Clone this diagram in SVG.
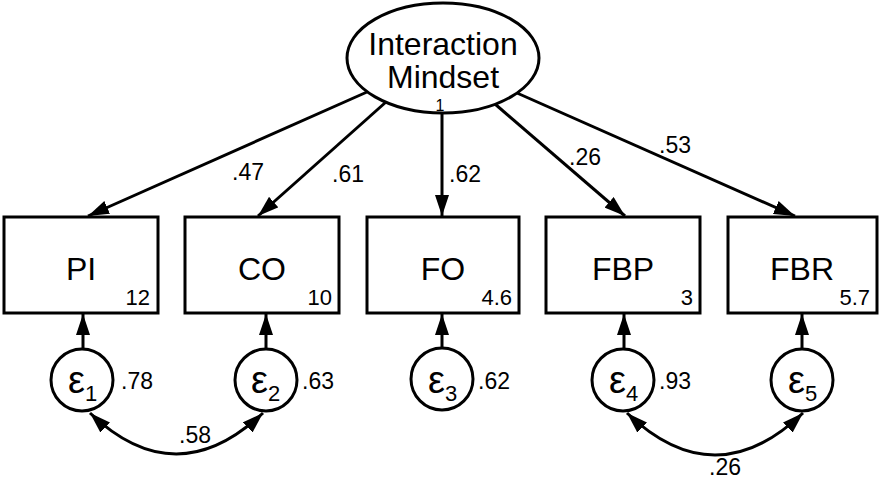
<svg xmlns="http://www.w3.org/2000/svg" width="882" height="479" viewBox="0 0 882 479">
<style>
text{font-family:"Liberation Sans",Arial,Helvetica,sans-serif;fill:#000}
.box{fill:#fff;stroke:#000;stroke-width:3}
.lat{fill:#fff;stroke:#000;stroke-width:3}
.err{fill:#fff;stroke:#000;stroke-width:3}
.lbl{font-size:32px;text-anchor:middle}
.num{font-size:22px;text-anchor:end}
.w{font-size:23px}
.eps{font-size:38px}
.sub{font-size:22px}
.c{fill:none;stroke:#000;stroke-width:3}
</style>
<defs>
<marker id="ah" markerUnits="userSpaceOnUse" markerWidth="21" markerHeight="14" refX="21" refY="7" orient="auto-start-reverse" viewBox="0 0 21 14">
<path d="M0,0 L21,7 L0,14 z" fill="#000"/>
</marker>
</defs>
<g id="connectors">
<line class="c" x1="367" y1="92" x2="88" y2="216" marker-end="url(#ah)"/>
<line class="c" x1="386" y1="102" x2="258" y2="216" marker-end="url(#ah)"/>
<line class="c" x1="442" y1="113" x2="442" y2="216" marker-end="url(#ah)"/>
<line class="c" x1="495" y1="104" x2="625" y2="216" marker-end="url(#ah)"/>
<line class="c" x1="517" y1="93" x2="795" y2="216" marker-end="url(#ah)"/>
<line class="c" x1="83" y1="349" x2="83" y2="314" marker-end="url(#ah)"/>
<line class="c" x1="266" y1="349" x2="266" y2="314" marker-end="url(#ah)"/>
<line class="c" x1="442" y1="348" x2="442" y2="314" marker-end="url(#ah)"/>
<line class="c" x1="624" y1="349" x2="624" y2="314" marker-end="url(#ah)"/>
<line class="c" x1="802" y1="349" x2="802" y2="314" marker-end="url(#ah)"/>
<path class="c" d="M90,413 Q176,495 263,413" marker-start="url(#ah)" marker-end="url(#ah)"/>
<path class="c" d="M627,413 Q715,497 803,413" marker-start="url(#ah)" marker-end="url(#ah)"/>
<text class="w" x="232" y="180">.47</text>
<text class="w" x="332" y="182">.61</text>
<text class="w" x="449" y="182">.62</text>
<text class="w" x="569" y="165">.26</text>
<text class="w" x="659" y="153">.53</text>
<text class="w" x="179" y="443">.58</text>
<text class="w" x="709" y="475">.26</text>
</g>
<g id="mindset">
<ellipse class="lat" cx="443" cy="58" rx="96" ry="55"/>
<text class="lbl" x="443" y="55">Interaction</text>
<text class="lbl" x="443" y="88">Mindset</text>
<text x="440" y="111" font-size="16" text-anchor="middle">1</text>
</g>
<g id="PI">
<rect class="box" x="4" y="217" width="154" height="96"/>
<text class="lbl" x="81" y="280">PI</text>
<text class="num" x="150" y="305">12</text>
</g>
<g id="CO">
<rect class="box" x="185" y="217" width="154" height="96"/>
<text class="lbl" x="262" y="280">CO</text>
<text class="num" x="332" y="305">10</text>
</g>
<g id="FO">
<rect class="box" x="367" y="217" width="152" height="96"/>
<text class="lbl" x="443" y="280">FO</text>
<text class="num" x="512" y="305">4.6</text>
</g>
<g id="FBP">
<rect class="box" x="546" y="217" width="154" height="96"/>
<text class="lbl" x="623" y="280">FBP</text>
<text class="num" x="693" y="305">3</text>
</g>
<g id="FBR">
<rect class="box" x="728" y="217" width="149" height="96"/>
<text class="lbl" x="802" y="280">FBR</text>
<text class="num" x="870" y="305">5.7</text>
</g>
<g id="e1">
<circle class="err" cx="82" cy="380" r="31"/>
<text class="eps" x="68" y="393">ε<tspan class="sub" dy="8">1</tspan></text>
<text class="w" x="121" y="389">.78</text>
</g>
<g id="e2">
<circle class="err" cx="266" cy="380" r="31"/>
<text class="eps" x="251" y="393">ε<tspan class="sub" dy="8">2</tspan></text>
<text class="w" x="302" y="389">.63</text>
</g>
<g id="e3">
<circle class="err" cx="442" cy="379" r="31"/>
<text class="eps" x="428" y="393">ε<tspan class="sub" dy="8">3</tspan></text>
<text class="w" x="478" y="389">.62</text>
</g>
<g id="e4">
<circle class="err" cx="623" cy="380" r="31"/>
<text class="eps" x="609" y="393">ε<tspan class="sub" dy="8">4</tspan></text>
<text class="w" x="659" y="389">.93</text>
</g>
<g id="e5">
<circle class="err" cx="802" cy="380" r="31"/>
<text class="eps" x="788" y="393">ε<tspan class="sub" dy="8">5</tspan></text>
</g>
</svg>
